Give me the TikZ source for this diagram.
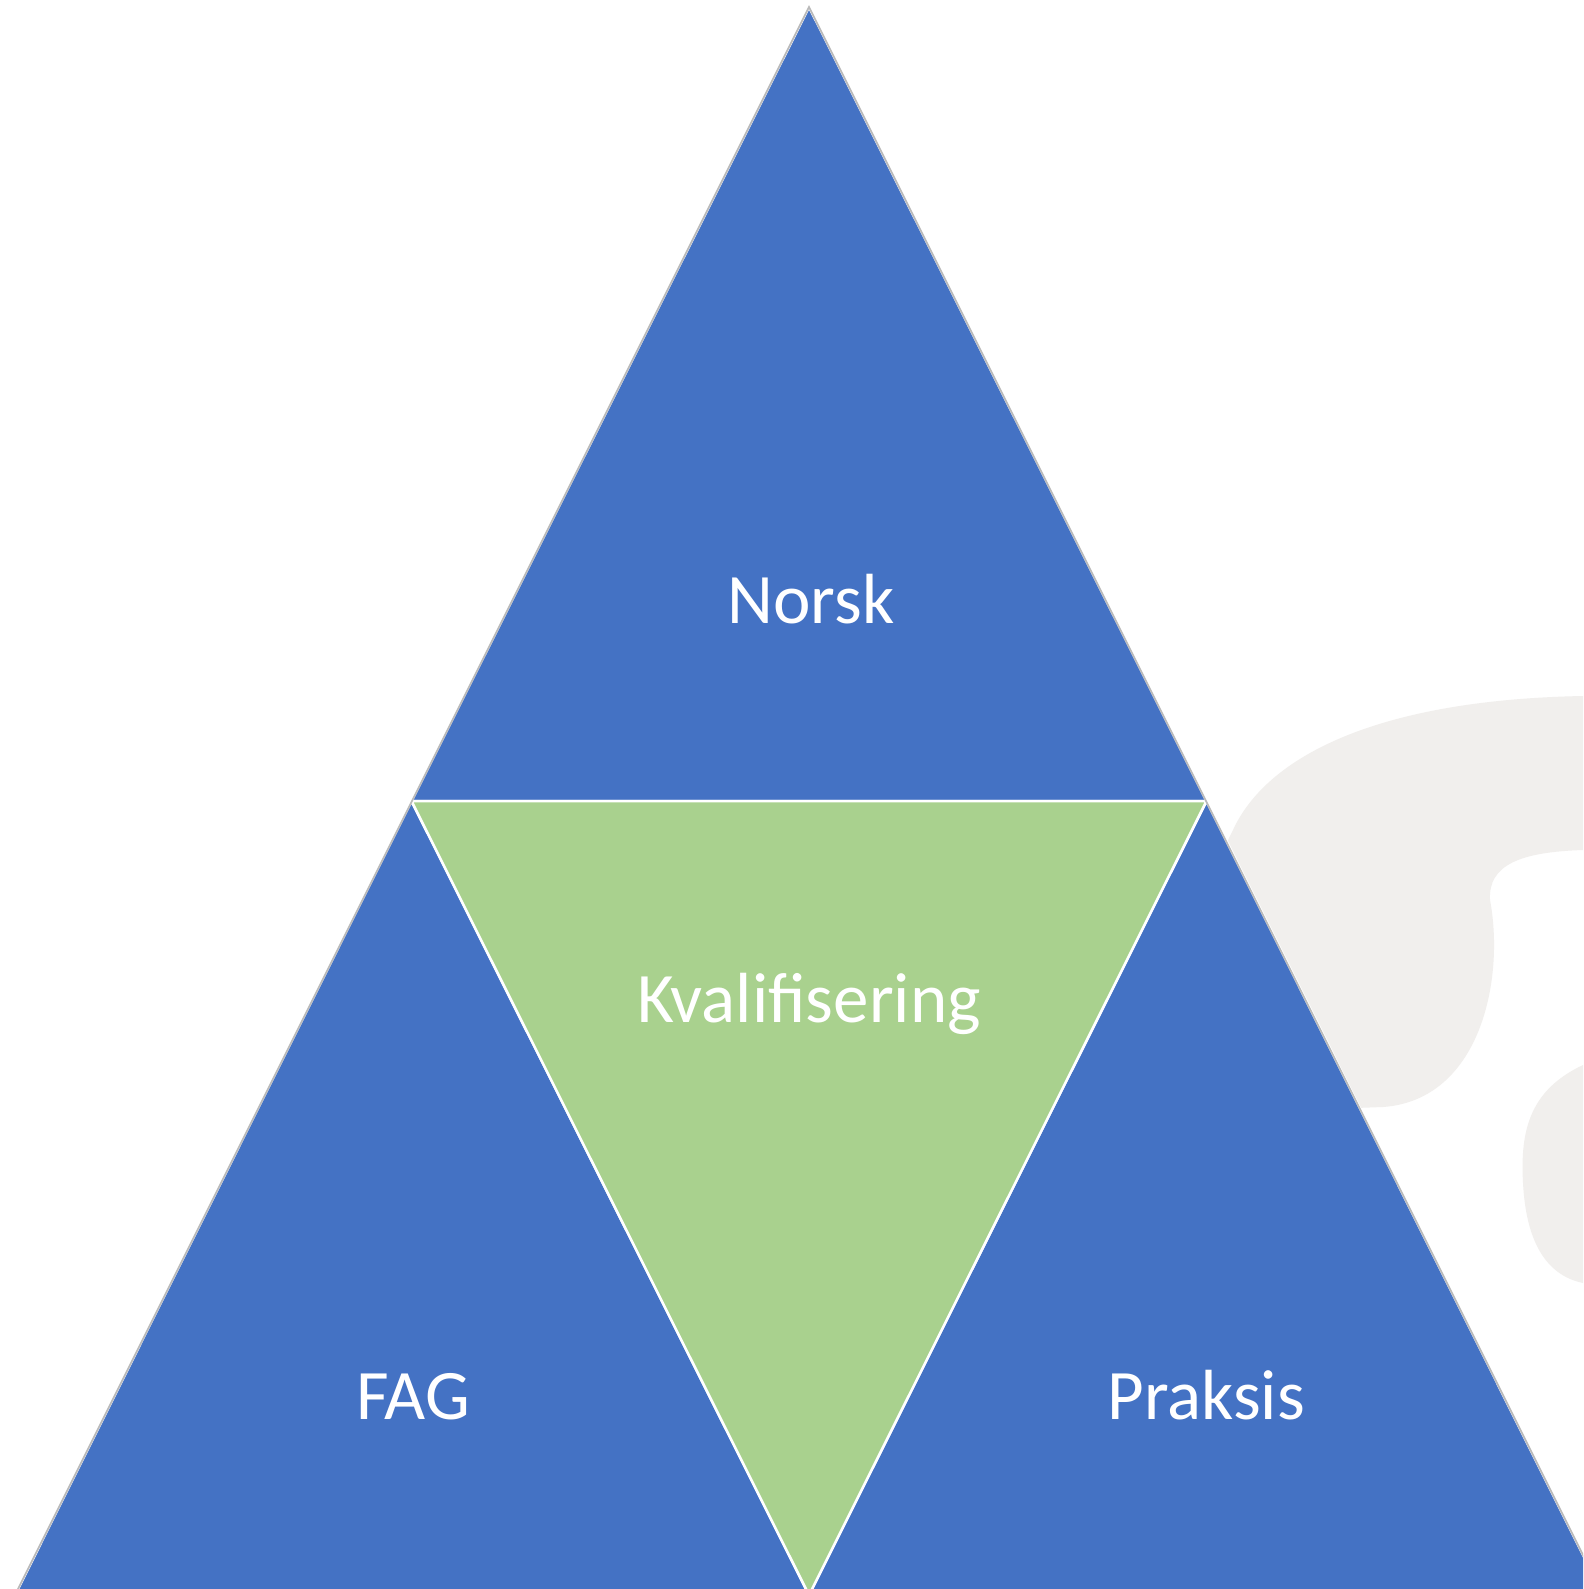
\documentclass[tikz,border=0pt]{standalone}
\usepackage{fontspec}
\setmainfont{Carlito}
\definecolor{triblue}{RGB}{68,114,196}
\definecolor{trigreen}{RGB}{169,209,142}
\definecolor{wmgray}{RGB}{241,239,237}
\definecolor{edgegray}{RGB}{185,185,185}
\tikzset{
  piece/.style={draw=white, line width=2.5pt, line join=miter},
  bluepiece/.style={piece, fill=triblue},
  greenpiece/.style={piece, fill=trigreen},
  outline/.style={draw=edgegray, line width=1.6pt, line join=miter},
  label/.style={text=white, anchor=base, inner sep=0pt, font=\fontsize{71}{82}\selectfont},
  watermark/.style={fill=wmgray}
}
\begin{document}
\begin{tikzpicture}[x=1pt,y=-1pt]
\useasboundingbox (0,0) rectangle (1583,1589);
\clip (0,0) rectangle (1583,1589);
\fill[white] (0,0) rectangle (1583,1589);
% faint watermark shapes
\fill[watermark] (1150,1000) -- (1233,830) .. controls (1265,760) and (1370,700) .. (1583,696)
  -- (1583,850) .. controls (1520,852) and (1488,865) .. (1490,900)
  .. controls (1505,980) and (1480,1100) .. (1383,1107) -- (1300,1110) -- cycle;
\fill[watermark] (1583,1065) .. controls (1530,1090) and (1520,1130) .. (1523,1183)
  .. controls (1526,1240) and (1545,1275) .. (1583,1283) -- cycle;
% triangle vertices
\coordinate (A) at (809,7);
\coordinate (L) at (411.5,801);
\coordinate (R) at (1206.5,801);
\coordinate (BL) at (15,1595);
\coordinate (BM) at (809,1595);
\coordinate (BR) at (1603,1595);
% pieces
\path[bluepiece] (A) -- (L) -- (R) -- cycle;
\path[bluepiece] (L) -- (BL) -- (BM) -- cycle;
\path[bluepiece] (R) -- (BM) -- (BR) -- cycle;
\path[greenpiece] (L) -- (R) -- (BM) -- cycle;
\path[outline] (A) -- (BL) -- (BR) -- cycle;
% labels
\node[label] (norsk) at (811,623) {Norsk};
\node[label] (kval) at (809,1022) {Kvalifisering};
\node[label] (fag) at (413,1419) {FAG};
\node[label] (praksis) at (1206,1419) {Praksis};
\end{tikzpicture}
\end{document}
